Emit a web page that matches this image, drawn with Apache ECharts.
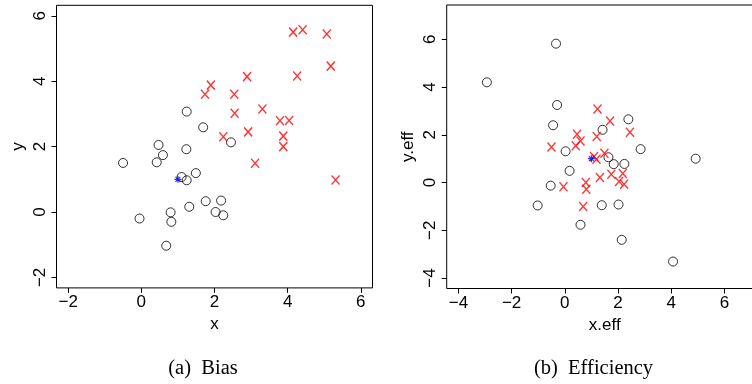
<!DOCTYPE html>
<html>
<head>
<meta charset="utf-8">
<script src="https://cdn.jsdelivr.net/npm/echarts@6/dist/echarts.min.js"></script>
<style>
html,body{margin:0;padding:0;background:#fff;}
#chart{width:752px;height:384px;}
</style>
</head>
<body>
<div id="chart"></div>
<script>
// ---- data ----
const biasTicks = [-2, 0, 2, 4, 6];
const effTicks = [-4, -2, 0, 2, 4, 6];

const biasCircles = [[-0.50,1.50],[0.42,1.52],[0.47,2.05],[0.59,1.74],[1.24,3.07],[1.23,1.92],[1.69,2.59],[2.45,2.13],[1.49,1.19],[1.10,1.07],[1.24,0.97],[-0.05,-0.20],[0.80,-0.01],[0.82,-0.30],[0.68,-1.03],[1.31,0.16],[1.76,0.33],[2.18,0.35],[2.03,0.00],[2.24,-0.10]];
const biasCrosses = [[1.74,3.60],[1.90,3.88],[2.89,4.14],[2.54,3.60],[2.55,3.02],[3.31,3.15],[2.24,2.30],[2.92,2.45],[3.79,2.79],[4.04,2.80],[3.88,2.32],[3.88,2.00],[3.11,1.49],[4.15,5.50],[4.41,5.57],[5.07,5.44],[4.26,4.16],[5.18,4.46],[5.31,0.98]];
const biasStar = [[1.00,1.00]];

const effCircles = [[-2.93,4.20],[-0.33,5.82],[-0.29,3.25],[-0.44,2.40],[0.03,1.31],[0.18,0.49],[-0.53,-0.13],[1.42,2.21],[2.39,2.65],[2.85,1.40],[1.64,1.06],[1.84,0.77],[2.24,0.78],[4.92,1.00],[-1.02,-0.96],[1.39,-0.95],[2.02,-0.92],[0.59,-1.77],[2.14,-2.40],[4.07,-3.31]];
const effCrosses = [[-0.50,1.49],[0.46,2.02],[0.59,1.74],[0.41,1.54],[1.23,3.08],[1.70,2.58],[1.20,1.93],[2.45,2.11],[1.49,1.23],[1.10,1.09],[1.19,0.98],[-0.05,-0.18],[0.79,0.00],[0.81,-0.28],[1.32,0.21],[1.75,0.35],[2.18,0.38],[2.04,0.04],[2.23,-0.07],[0.69,-1.00]];
const effStar = [[1.00,1.00]];

const biasRange = [-2, 6];
const effRange = [-4, 7];
const captions = ['(a)\u2002Bias', '(b)\u2002Efficiency'];
const names = {biasX: 'x', biasY: 'y', effX: 'x.eff', effY: 'y.eff'};

// ---- styling ----
const FONT = 'Liberation Sans, Arial, Helvetica, sans-serif';
const SERIF = 'Liberation Serif, Times New Roman, serif';
const pad = r => { const d = (r[1] - r[0]) * 0.04; return [r[0] - d, r[1] + d]; };
const fmt = v => String(v).replace('-', '\u2212');

function axis(gridIndex, range, ticks, name, isY) {
  const [mn, mx] = pad(range);
  return {
    type: 'value', gridIndex, min: mn, max: mx, name,
    nameLocation: 'middle', nameGap: isY ? 30 : 26, nameRotate: isY ? 90 : 0,
    nameTextStyle: {fontFamily: FONT, fontSize: 17, color: '#000'},
    axisLine: {show: false, onZero: false},
    splitLine: {show: false},
    axisTick: {show: true, inside: false, length: 5, customValues: ticks, lineStyle: {color: '#000', width: 1}},
    axisLabel: {show: true, customValues: ticks, formatter: fmt, rotate: isY ? 90 : 0, margin: isY ? 8 : 6,
      fontFamily: FONT, fontSize: 17, color: '#000'}
  };
}

const crossPath = 'path://M0,0L10,11M10,0L0,11';
const starPath = 'path://M5,0L5,10M0,5L10,5M1.5,1.5L8.5,8.5M8.5,1.5L1.5,8.5';

function scatterSet(xi, circles, crosses, star) {
  return [
    {type: 'scatter', xAxisIndex: xi, yAxisIndex: xi, data: circles, symbol: 'circle', symbolSize: 9,
      itemStyle: {color: 'rgba(0,0,0,0)', borderColor: '#000', borderWidth: 1}, silent: true, animation: false},
    {type: 'scatter', xAxisIndex: xi, yAxisIndex: xi, data: crosses, symbol: crossPath, symbolSize: [8, 9],
      itemStyle: {color: 'rgba(0,0,0,0)', borderColor: '#ff0000', borderWidth: 1.4}, silent: true, animation: false},
    {type: 'scatter', xAxisIndex: xi, yAxisIndex: xi, data: star, symbol: starPath, symbolSize: 7,
      itemStyle: {color: 'rgba(0,0,0,0)', borderColor: '#0000ff', borderWidth: 1.2}, silent: true, animation: false}
  ];
}

const chart = echarts.init(document.getElementById('chart'), null, {renderer: 'canvas'});
chart.setOption({
  animation: false,
  backgroundColor: '#fff',
  grid: [
    {left: 56.5, top: 5.3, width: 316, height: 282.6, show: true, borderColor: '#000', borderWidth: 1, backgroundColor: 'transparent', containLabel: false, outerBoundsMode: 'none'},
    {left: 446.7, top: 5, width: 316, height: 283.5, show: true, borderColor: '#000', borderWidth: 1, backgroundColor: 'transparent', containLabel: false, outerBoundsMode: 'none'}
  ],
  xAxis: [axis(0, biasRange, biasTicks, names.biasX, false), axis(1, effRange, effTicks, names.effX, false)],
  yAxis: [axis(0, biasRange, biasTicks, names.biasY, true), axis(1, effRange, effTicks, names.effY, true)],
  series: [...scatterSet(0, biasCircles, biasCrosses, biasStar), ...scatterSet(1, effCircles, effCrosses, effStar)],
  graphic: [
    {type: 'text', x: 203, y: 369, style: {text: captions[0], fontFamily: SERIF, fontSize: 20.5, fill: '#000', textAlign: 'center', textVerticalAlign: 'middle'}},
    {type: 'text', x: 593.5, y: 369, style: {text: captions[1], fontFamily: SERIF, fontSize: 20.5, fill: '#000', textAlign: 'center', textVerticalAlign: 'middle'}}
  ]
});
</script>
</body>
</html>
